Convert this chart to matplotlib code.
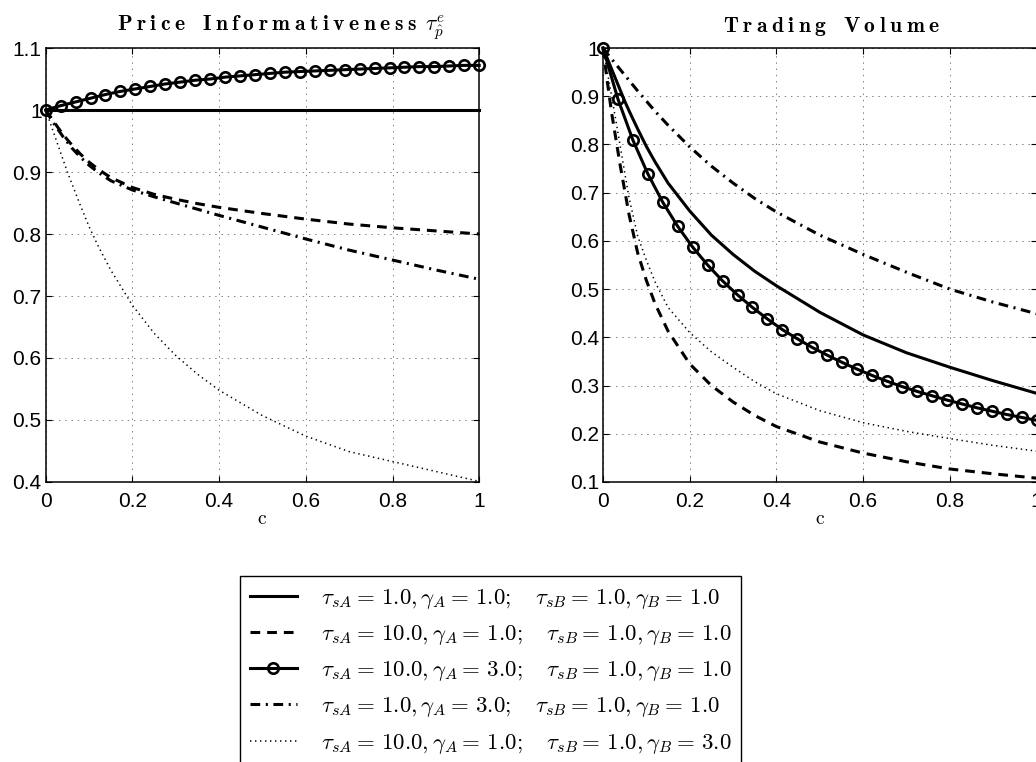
import numpy as np
import matplotlib
matplotlib.use("Agg")
import matplotlib.pyplot as plt
from matplotlib.lines import Line2D

# ---------------- data ----------------
c_mark = np.linspace(0.0, 1.0, 30)
c_line = [0, 0.01, 0.02, 0.03, 0.04, 0.05, 0.06, 0.08, 0.1, 0.12, 0.15, 0.2,
          0.25, 0.3, 0.35, 0.4, 0.5, 0.6, 0.7, 0.8, 0.9, 1.0]

# Price informativeness (left panel)
pi_solid = [1.0] * 22
pi_dashed = [1.0, 0.99, 0.98, 0.97, 0.961, 0.952, 0.944, 0.929, 0.916, 0.905, 0.891,
             0.875, 0.864, 0.856, 0.849, 0.843, 0.833, 0.824, 0.816, 0.81, 0.805, 0.80]
pi_circle = [1.000, 1.007, 1.013, 1.019, 1.025, 1.030, 1.034, 1.038, 1.042, 1.045,
             1.048, 1.050, 1.053, 1.055, 1.057, 1.059, 1.061, 1.062, 1.063, 1.064,
             1.065, 1.066, 1.067, 1.068, 1.069, 1.070, 1.070, 1.071, 1.072, 1.072]
pi_dashdot = [1.0, 0.988, 0.977, 0.967, 0.957, 0.948, 0.939, 0.924, 0.911, 0.90, 0.886,
              0.871, 0.86, 0.85, 0.84, 0.83, 0.811, 0.792, 0.774, 0.758, 0.742, 0.727]
pi_dotted = [1.0, 0.98, 0.96, 0.94, 0.92, 0.90, 0.882, 0.846, 0.812, 0.782, 0.742,
             0.685, 0.64, 0.604, 0.574, 0.548, 0.507, 0.474, 0.449, 0.433, 0.417, 0.401]

# Trading volume (right panel)
tv_solid = [1.0, 0.978, 0.956, 0.934, 0.912, 0.89, 0.87, 0.832, 0.796, 0.764, 0.72,
            0.662, 0.612, 0.572, 0.537, 0.507, 0.452, 0.405, 0.368, 0.338, 0.31, 0.284]
tv_dashed = [1.0, 0.93, 0.865, 0.81, 0.755, 0.705, 0.655, 0.575, 0.518, 0.47, 0.413,
             0.345, 0.30, 0.266, 0.238, 0.215, 0.183, 0.160, 0.142, 0.127, 0.117, 0.108]
tv_circle = [1.0, 0.894, 0.809, 0.739, 0.680, 0.630, 0.587, 0.550, 0.517, 0.488,
             0.462, 0.438, 0.416, 0.397, 0.379, 0.363, 0.348, 0.334, 0.321, 0.309,
             0.298, 0.288, 0.279, 0.270, 0.262, 0.254, 0.247, 0.240, 0.234, 0.228]
tv_dashdot = [1.0, 0.988, 0.977, 0.966, 0.955, 0.944, 0.933, 0.911, 0.89, 0.869, 0.84,
              0.795, 0.755, 0.72, 0.688, 0.66, 0.612, 0.572, 0.535, 0.50, 0.473, 0.449]
tv_dotted = [1.0, 0.95, 0.90, 0.848, 0.795, 0.742, 0.69, 0.61, 0.56, 0.515, 0.462,
             0.41, 0.37, 0.338, 0.308, 0.283, 0.248, 0.223, 0.205, 0.19, 0.176, 0.164]

x_ticks = [0, 0.2, 0.4, 0.6, 0.8, 1.0]
x_ticklabels = ["0", "0.2", "0.4", "0.6", "0.8", "1"]
pi_yticks = [0.4, 0.5, 0.6, 0.7, 0.8, 0.9, 1.0, 1.1]
pi_yticklabels = ["0.4", "0.5", "0.6", "0.7", "0.8", "0.9", "1", "1.1"]
tv_yticks = [0.1, 0.2, 0.3, 0.4, 0.5, 0.6, 0.7, 0.8, 0.9, 1.0]
tv_yticklabels = ["0.1", "0.2", "0.3", "0.4", "0.5", "0.6", "0.7", "0.8", "0.9", "1"]

legend_labels = [
    r"$\tau_{sA} =\, 1.0, \gamma_A =\, 1.0;\quad \tau_{sB} =\, 1.0, \gamma_B =\, 1.0$",
    r"$\tau_{sA} =\, 10.0, \gamma_A =\, 1.0;\quad \tau_{sB} =\, 1.0, \gamma_B =\, 1.0$",
    r"$\tau_{sA} =\, 10.0, \gamma_A =\, 3.0;\quad \tau_{sB} =\, 1.0, \gamma_B =\, 1.0$",
    r"$\tau_{sA} =\, 1.0, \gamma_A =\, 3.0;\quad \tau_{sB} =\, 1.0, \gamma_B =\, 1.0$",
    r"$\tau_{sA} =\, 10.0, \gamma_A =\, 1.0;\quad \tau_{sB} =\, 1.0, \gamma_B =\, 3.0$",
]

# ---------------- style ----------------
plt.rcParams["lines.scale_dashes"] = False
plt.rcParams["mathtext.fontset"] = "cm"
plt.rcParams["font.family"] = ["Liberation Sans", "DejaVu Sans"]

W, H = 1036, 762
fig = plt.figure(figsize=(W / 100, H / 100), dpi=100)

styles = [
    dict(color="black", lw=2.2, ls="-"),
    dict(color="black", lw=2.2, ls=(0, (7, 5))),
    dict(color="black", lw=2.2, ls="-", marker="o", ms=7.5, mfc="none", mew=1.9),
    dict(color="black", lw=2.2, ls=(0, (7, 4, 1.5, 4))),
    dict(color="black", lw=1.1, ls=(0, (1, 2.6))),
]


def make_axes(left_px, ylim, yticks, yticklabels):
    ax = fig.add_axes([left_px / W, 1 - 482 / H, 433.5 / W, 434 / H])
    ax.set_xlim(0, 1)
    ax.set_ylim(*ylim)
    ax.set_xticks(x_ticks)
    ax.set_xticklabels(x_ticklabels)
    ax.set_yticks(yticks)
    ax.set_yticklabels(yticklabels)
    ax.tick_params(direction="in", length=4, width=0.8, top=True, right=True,
                   labelsize=15, colors="black")
    ax.tick_params(axis="x", pad=7)
    ax.tick_params(axis="y", pad=3)
    ax.grid(True, color="0.4", lw=0.6, ls=(0, (1, 3.5)))
    for s in ax.spines.values():
        s.set_linewidth(1.1)
        s.set_color("black")
    ax.set_axisbelow(True)
    return ax


def spaced_bold(s, track=0.24, word=0.45):
    parts = []
    for ch in s:
        if ch == " ":
            parts.append(r"\hspace{%s}" % word)
        else:
            parts.append(r"\mathbf{%s}" % ch)
    return (r"\hspace{%s}" % track).join(parts)


ax1 = make_axes(45.7, (0.4, 1.1), pi_yticks, pi_yticklabels)
ax1.plot(c_line, pi_solid, **styles[0])
ax1.plot(c_line, pi_dashed, **styles[1])
ax1.plot(c_mark, pi_circle, **styles[2])
ax1.plot(c_line, pi_dashdot, **styles[3])
ax1.plot(c_line, pi_dotted, **styles[4])
for l in ax1.lines:
    l.set_clip_on(False)

ax2 = make_axes(603, (0.1, 1.0), tv_yticks, tv_yticklabels)
ax2.plot(c_line, tv_solid, **styles[0])
ax2.plot(c_line, tv_dashed, **styles[1])
ax2.plot(c_mark, tv_circle, **styles[2])
ax2.plot(c_line, tv_dashdot, **styles[3])
ax2.plot(c_line, tv_dotted, **styles[4])
for l in ax2.lines:
    l.set_clip_on(False)

# titles
fig.text(281 / W, 1 - 32 / H,
         "$" + spaced_bold("Price Informativeness") + r"\hspace{0.5}\tau^{e}_{\hat{p}}$",
         ha="center", va="baseline", fontsize=15.5)
fig.text(832 / W, 1 - 32 / H, "$" + spaced_bold("Trading Volume") + "$",
         ha="center", va="baseline", fontsize=15.5)

# x labels
fig.text(262 / W, 1 - 524 / H, r"$\mathrm{c}$", ha="center", va="baseline", fontsize=14)
fig.text(820 / W, 1 - 524 / H, r"$\mathrm{c}$", ha="center", va="baseline", fontsize=14)

# legend
handles = [Line2D([], [], **st) for st in styles]
leg = fig.legend(handles, legend_labels, loc="upper left",
                 bbox_to_anchor=(240 / W, 1 - 576 / H), borderaxespad=0,
                 frameon=True, fancybox=False, edgecolor="black", framealpha=1,
                 fontsize=16.5, handlelength=2.05, handletextpad=1.05,
                 labelspacing=0.49, borderpad=0.42)
leg.get_frame().set_linewidth(1.0)

fig.savefig("out.png", dpi=100)
